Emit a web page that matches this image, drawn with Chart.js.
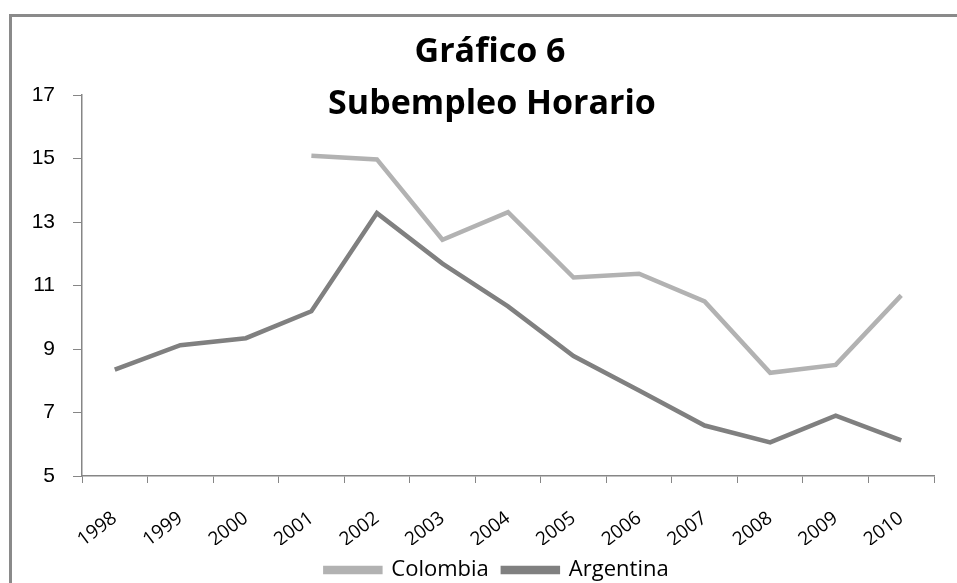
<!DOCTYPE html>
<html>
<head>
<meta charset="utf-8">
<script src="https://cdn.jsdelivr.net/npm/chart.js@4.4.1/dist/chart.umd.min.js"></script>
<style>
html, body { margin: 0; padding: 0; background: #fff; }
#wrap { position: relative; width: 957px; height: 583px; overflow: hidden; }
#frame { position: absolute; left: 9px; top: 14px; width: 980px; height: 620px;
  border-left: 3px solid #8a8a8a; border-top: 3px solid #8a8a8a; pointer-events: none; }
</style>
</head>
<body>
<div id="wrap">
  <canvas id="subempleoChart" width="957" height="583"></canvas>
  <div id="frame"></div>
</div>
<script>
// datos
const years = ["1998", "1999", "2000", "2001", "2002", "2003", "2004", "2005", "2006", "2007", "2008", "2009", "2010"];
const colombia = [null, null, null, 15.09, 14.97, 12.44, 13.31, 11.25, 11.37, 10.5, 8.25, 8.5, 10.69];
const argentina = [8.35, 9.12, 9.34, 10.19, 13.28, 11.69, 10.34, 8.78, 7.69, 6.59, 6.06, 6.9, 6.12];
const yMin = 5, yMax = 17, yStep = 2;
const titleLines = ["Gráfico 6", "Subempleo Horario"];

const axisColor = "#868686";

// titulo dibujado encima del area (como en Excel)
const titlePlugin = {
  id: "excelTitle",
  afterDraw(chart) {
    const ctx = chart.ctx;
    ctx.save();
    ctx.font = "bold 34px 'Open Sans'";
    ctx.fillStyle = "#000";
    ctx.textAlign = "center";
    ctx.textBaseline = "alphabetic";
    ctx.fillText(titleLines[0], 490, 62);
    ctx.fillText(titleLines[1], 492, 114);
    ctx.restore();
  }
};

// la leyenda de Excel no queda centrada en el canvas
const legendShift = {
  id: "legendShift",
  afterLayout(chart) {
    chart.legend.left += 30;
    chart.legend.right += 30;
  }
};

const ctx = document.getElementById("subempleoChart").getContext("2d");
new Chart(ctx, {
  type: "line",
  data: {
    labels: years,
    datasets: [{
      label: "Colombia",
      data: colombia,
      borderColor: "#b2b2b2",
      backgroundColor: "#b2b2b2",
      borderWidth: 4.5,
      pointRadius: 0,
      tension: 0
    }, {
      label: "Argentina",
      data: argentina,
      borderColor: "#808080",
      backgroundColor: "#808080",
      borderWidth: 4.5,
      pointRadius: 0,
      tension: 0
    }]
  },
  options: {
    responsive: false,
    animation: false,
    layout: { padding: { left: 0, right: 23, top: 95, bottom: -8 } },
    plugins: {
      title: { display: false },
      tooltip: { enabled: false },
      legend: {
        position: "bottom",
        labels: {
          color: "#000",
          font: { family: "'Open Sans'", size: 22 },
          boxWidth: 55,
          boxHeight: 4,
          padding: 14
        }
      }
    },
    scales: {
      x: {
        offset: true,
        afterFit: function(scale) { scale.height = 69; },
        grid: { offset: true, drawOnChartArea: false, color: axisColor, tickLength: 7 },
        border: { color: axisColor, width: 1.5 },
        ticks: {
          color: "#000",
          font: { family: "'Open Sans'", size: 19 },
          minRotation: 37,
          maxRotation: 37,
          padding: 24,
          autoSkip: false
        }
      },
      y: {
        min: yMin,
        max: yMax,
        afterFit: function(scale) { scale.width = 82; },
        grid: { drawOnChartArea: false, color: axisColor, tickLength: 9 },
        border: { color: axisColor, width: 1.5 },
        ticks: {
          stepSize: yStep,
          color: "#000",
          font: { family: "'Liberation Sans'", size: 21 },
          padding: 18
        }
      }
    }
  },
  plugins: [titlePlugin, legendShift]
});
</script>
</body>
</html>
